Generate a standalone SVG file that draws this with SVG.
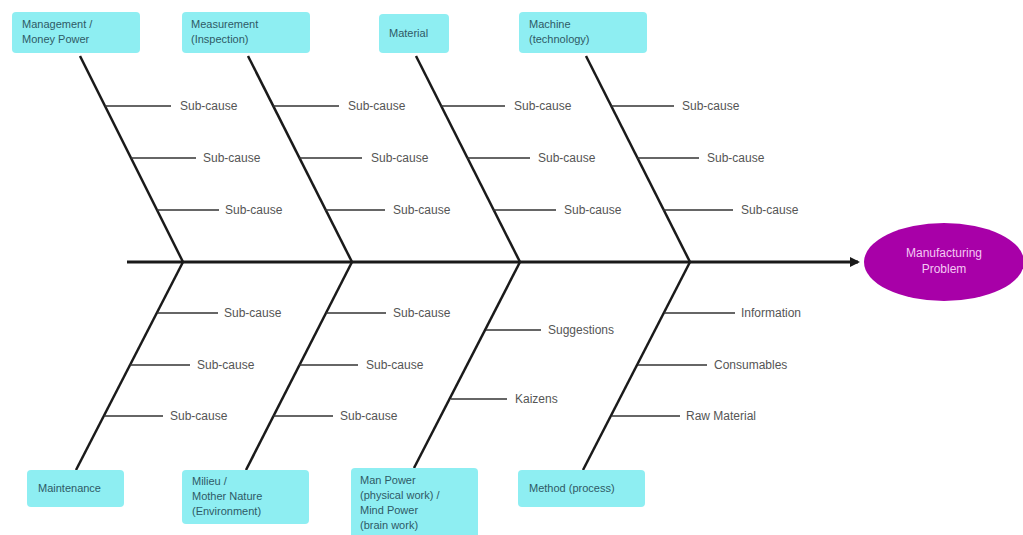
<svg xmlns="http://www.w3.org/2000/svg" width="1023" height="535" viewBox="0 0 1023 535">
  <style>
    .box { fill: #8eeef2; }
    .lbl { font-family: "Liberation Sans", Arial, sans-serif; font-size: 11px; fill: #2e5a66; }
    .sub { font-family: "Liberation Sans", Arial, sans-serif; font-size: 12px; fill: #555555; }
    .bone { stroke: #1a1a1a; stroke-width: 2.5; fill: none; }
    .twig { stroke: #333333; stroke-width: 1.3; fill: none; }
    .head { font-family: "Liberation Sans", Arial, sans-serif; font-size: 12px; fill: #f4c8f4; text-anchor: middle; }
  </style>
  <defs>
    <marker id="arrow" markerWidth="10" markerHeight="10" refX="8" refY="5" orient="auto" markerUnits="userSpaceOnUse">
      <path d="M0,0 L10,5 L0,10 Z" fill="#1a1a1a"/>
    </marker>
  </defs>
  <rect width="1023" height="535" fill="#ffffff"/>

  <!-- spine, bones and sub-cause branches -->
  <g id="connectors">
    <line class="bone" x1="127" y1="262" x2="858" y2="262" marker-end="url(#arrow)" style="stroke-width:3"/>
    <!-- upper bones -->
    <line class="bone" x1="80" y1="56" x2="183" y2="262"/>
    <line class="bone" x1="248" y1="56" x2="352" y2="262"/>
    <line class="bone" x1="416" y1="56" x2="520" y2="262"/>
    <line class="bone" x1="586" y1="56" x2="690" y2="262"/>
    <!-- lower bones -->
    <line class="bone" x1="183" y1="262" x2="76" y2="470"/>
    <line class="bone" x1="352" y1="262" x2="246" y2="470"/>
    <line class="bone" x1="520" y1="262" x2="414" y2="468"/>
    <line class="bone" x1="690" y1="262" x2="583" y2="470"/>
    <!-- upper twigs -->
    <line class="twig" x1="105" y1="106" x2="171" y2="106"/>
    <line class="twig" x1="131" y1="158" x2="196" y2="158"/>
    <line class="twig" x1="157" y1="210" x2="219" y2="210"/>
    <line class="twig" x1="273" y1="106" x2="339" y2="106"/>
    <line class="twig" x1="299" y1="158" x2="362" y2="158"/>
    <line class="twig" x1="325" y1="210" x2="385" y2="210"/>
    <line class="twig" x1="441" y1="106" x2="505" y2="106"/>
    <line class="twig" x1="467" y1="158" x2="530" y2="158"/>
    <line class="twig" x1="493" y1="210" x2="556" y2="210"/>
    <line class="twig" x1="611" y1="106" x2="674" y2="106"/>
    <line class="twig" x1="637" y1="158" x2="699" y2="158"/>
    <line class="twig" x1="663" y1="210" x2="733" y2="210"/>
    <!-- lower twigs -->
    <line class="twig" x1="157" y1="313" x2="218" y2="313"/>
    <line class="twig" x1="130" y1="365" x2="190" y2="365"/>
    <line class="twig" x1="104" y1="416" x2="163" y2="416"/>
    <line class="twig" x1="326" y1="313" x2="386" y2="313"/>
    <line class="twig" x1="299" y1="365" x2="358" y2="365"/>
    <line class="twig" x1="273" y1="416" x2="333" y2="416"/>
    <line class="twig" x1="486" y1="330" x2="541" y2="330"/>
    <line class="twig" x1="451" y1="399" x2="507" y2="399"/>
    <line class="twig" x1="664" y1="313" x2="735" y2="313"/>
    <line class="twig" x1="638" y1="365" x2="707" y2="365"/>
    <line class="twig" x1="612" y1="416" x2="680" y2="416"/>
  </g>

  <!-- sub-cause labels -->
  <g id="subcauses">
    <text class="sub" x="180" y="110">Sub-cause</text>
    <text class="sub" x="203" y="162">Sub-cause</text>
    <text class="sub" x="225" y="214">Sub-cause</text>
    <text class="sub" x="348" y="110">Sub-cause</text>
    <text class="sub" x="371" y="162">Sub-cause</text>
    <text class="sub" x="393" y="214">Sub-cause</text>
    <text class="sub" x="514" y="110">Sub-cause</text>
    <text class="sub" x="538" y="162">Sub-cause</text>
    <text class="sub" x="564" y="214">Sub-cause</text>
    <text class="sub" x="682" y="110">Sub-cause</text>
    <text class="sub" x="707" y="162">Sub-cause</text>
    <text class="sub" x="741" y="214">Sub-cause</text>
    <text class="sub" x="224" y="317">Sub-cause</text>
    <text class="sub" x="197" y="369">Sub-cause</text>
    <text class="sub" x="170" y="420">Sub-cause</text>
    <text class="sub" x="393" y="317">Sub-cause</text>
    <text class="sub" x="366" y="369">Sub-cause</text>
    <text class="sub" x="340" y="420">Sub-cause</text>
    <text class="sub" x="548" y="334">Suggestions</text>
    <text class="sub" x="515" y="403">Kaizens</text>
    <text class="sub" x="741" y="317">Information</text>
    <text class="sub" x="714" y="369">Consumables</text>
    <text class="sub" x="686" y="420">Raw Material</text>
  </g>

  <g id="node-management">
    <rect class="box" x="12" y="12" width="128" height="41" rx="4"/>
    <text class="lbl" x="22" y="28">Management /</text>
    <text class="lbl" x="22" y="43">Money Power</text>
  </g>
  <g id="node-measurement">
    <rect class="box" x="182" y="12" width="128" height="41" rx="4"/>
    <text class="lbl" x="191" y="28">Measurement</text>
    <text class="lbl" x="191" y="43">(Inspection)</text>
  </g>
  <g id="node-material">
    <rect class="box" x="379" y="14" width="70" height="39" rx="4"/>
    <text class="lbl" x="389" y="37">Material</text>
  </g>
  <g id="node-machine">
    <rect class="box" x="519" y="12" width="128" height="41" rx="4"/>
    <text class="lbl" x="529" y="28">Machine</text>
    <text class="lbl" x="529" y="43">(technology)</text>
  </g>
  <g id="node-maintenance">
    <rect class="box" x="27" y="470" width="97" height="37" rx="4"/>
    <text class="lbl" x="38" y="492">Maintenance</text>
  </g>
  <g id="node-milieu">
    <rect class="box" x="182" y="470" width="127" height="54" rx="4"/>
    <text class="lbl" x="192" y="485">Milieu /</text>
    <text class="lbl" x="192" y="500">Mother Nature</text>
    <text class="lbl" x="192" y="515">(Environment)</text>
  </g>
  <g id="node-manpower">
    <rect class="box" x="351" y="468" width="127" height="70" rx="4"/>
    <text class="lbl" x="360" y="484">Man Power</text>
    <text class="lbl" x="360" y="499">(physical work) /</text>
    <text class="lbl" x="360" y="514">Mind Power</text>
    <text class="lbl" x="360" y="529">(brain work)</text>
  </g>
  <g id="node-method">
    <rect class="box" x="518" y="470" width="127" height="37" rx="4"/>
    <text class="lbl" x="529" y="492">Method (process)</text>
  </g>
  <g id="node-problem">
    <ellipse cx="944" cy="262" rx="80" ry="39" fill="#a800a8"/>
    <text class="head" x="944" y="257">Manufacturing</text>
    <text class="head" x="944" y="273">Problem</text>
  </g>
</svg>
